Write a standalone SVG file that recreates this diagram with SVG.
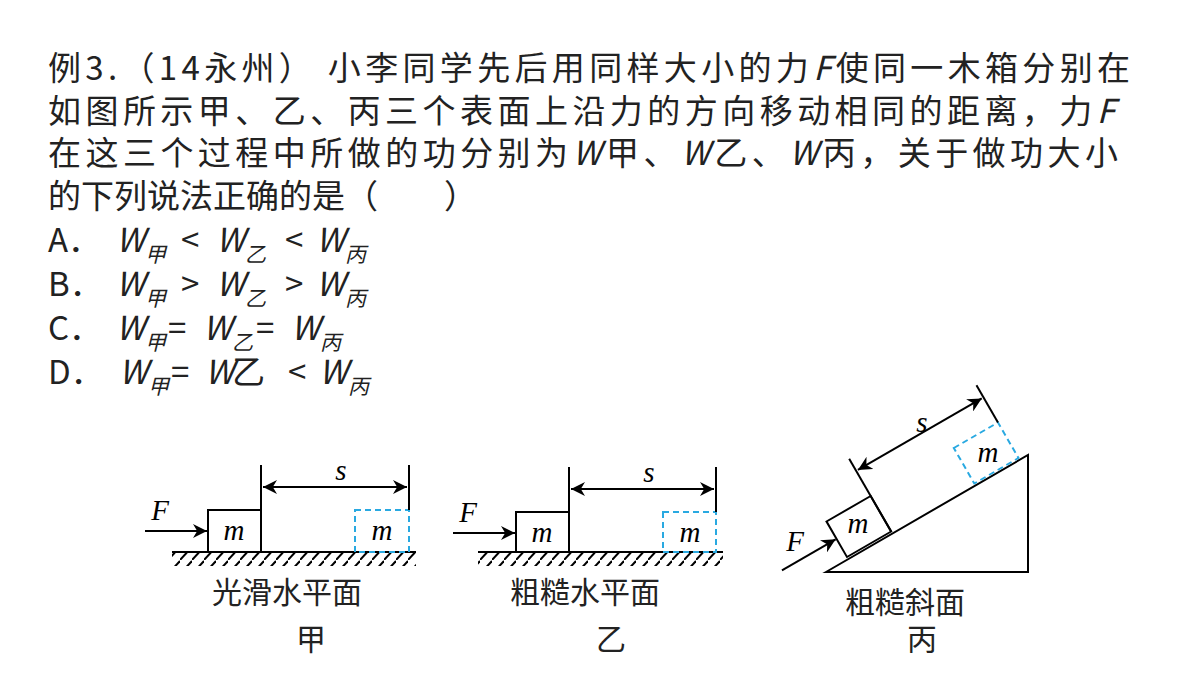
<svg xmlns="http://www.w3.org/2000/svg" width="1200" height="675" viewBox="0 0 1200 675">
<style>
.t{font-family:"Noto Sans CJK SC","Noto Sans",sans-serif;font-size:33px;fill:#222}
.i{font-style:italic}
.sub{font-family:"Noto Sans CJK SC",sans-serif;font-size:21px;font-style:italic;fill:#222}
.m{font-family:"Liberation Serif",serif;font-style:italic;font-size:29px}
.c{font-family:"Noto Sans CJK SC",serif;font-size:30px;fill:#222}
.k{stroke:#000;stroke-width:2;fill:none}
.d{stroke:#29a9e1;stroke-width:2;fill:none;stroke-dasharray:6,4}
</style>
<defs>
<marker id="a" viewBox="0 0 10 10" refX="10" refY="5" markerWidth="7" markerHeight="7" orient="auto-start-reverse"><path d="M0,0 L10,5 L0,10 L3,5z" fill="#000"/></marker>
<pattern id="h" width="12" height="14" patternUnits="userSpaceOnUse"><path d="M0,14 L12,1" stroke="#000" stroke-width="2"/></pattern>
</defs>
<text class="t" x="48" y="80" textLength="1082">例3.（14永州） 小李同学先后用同样大小的力<tspan class="i">F</tspan>使同一木箱分别在</text>
<text class="t" x="48" y="123" textLength="1067">如图所示甲、乙、丙三个表面上沿力的方向移动相同的距离，力<tspan class="i">F</tspan></text>
<text class="t" x="48" y="165" textLength="1070">在这三个过程中所做的功分别为<tspan class="i">W</tspan>甲、<tspan class="i">W</tspan>乙、<tspan class="i">W</tspan>丙，关于做功大小</text>
<text class="t" x="48" y="208">的下列说法正确的是（　　）</text>
<g id="optA"><text class="t" x="48" y="252">A．</text><text class="t i" x="116" y="252">W</text><text class="sub" x="145" y="262">甲</text><text class="t" x="181" y="252">&lt;</text><text class="t i" x="216" y="252">W</text><text class="sub" x="245" y="262">乙</text><text class="t" x="285" y="252">&lt;</text><text class="t i" x="316" y="252">W</text><text class="sub" x="345" y="262">丙</text></g>
<g id="optB"><text class="t" x="48" y="296">B．</text><text class="t i" x="116" y="296">W</text><text class="sub" x="145" y="306">甲</text><text class="t" x="181" y="296">&gt;</text><text class="t i" x="216" y="296">W</text><text class="sub" x="245" y="306">乙</text><text class="t" x="285" y="296">&gt;</text><text class="t i" x="316" y="296">W</text><text class="sub" x="345" y="306">丙</text></g>
<g id="optC"><text class="t" x="48" y="340">C．</text><text class="t i" x="116" y="340">W</text><text class="sub" x="145" y="350">甲</text><text class="t" x="168" y="340">=</text><text class="t i" x="203" y="340">W</text><text class="sub" x="232" y="350">乙</text><text class="t" x="256" y="340">=</text><text class="t i" x="291" y="340">W</text><text class="sub" x="320" y="350">丙</text></g>
<g id="optD"><text class="t" x="48" y="384">D．</text><text class="t i" x="119" y="384">W</text><text class="sub" x="148" y="394">甲</text><text class="t" x="171" y="384">=</text><text class="t i" x="205" y="384">W</text><text class="t" x="232" y="384">乙</text><text class="t" x="288" y="384">&lt;</text><text class="t i" x="319" y="384">W</text><text class="sub" x="348" y="394">丙</text></g>

<g id="fig1">
<rect x="172" y="553" width="244" height="13" fill="url(#h)"/>
<line class="k" x1="172" y1="552" x2="416" y2="552"/>
<rect class="k" x="208" y="510" width="53" height="42"/>
<rect class="d" x="355" y="510" width="54" height="42"/>
<line class="k" x1="261" y1="465" x2="261" y2="510"/>
<line class="k" x1="409" y1="465" x2="409" y2="510"/>
<line class="k" x1="263" y1="487" x2="407" y2="487" marker-start="url(#a)" marker-end="url(#a)"/>
<line class="k" x1="145" y1="531" x2="207" y2="531" marker-end="url(#a)"/>
<text class="m" x="341" y="480" text-anchor="middle">s</text>
<text class="m" x="160" y="520" text-anchor="middle">F</text>
<text class="m" x="234" y="540" text-anchor="middle">m</text>
<text class="m" x="382" y="540" text-anchor="middle">m</text>
<text class="c" x="287" y="603" text-anchor="middle">光滑水平面</text>
<text class="c" x="311" y="650" text-anchor="middle">甲</text>
</g>
<g id="fig2">
<rect x="478" y="553" width="245" height="13" fill="url(#h)"/>
<line class="k" x1="478" y1="552" x2="723" y2="552"/>
<rect class="k" x="516" y="512" width="53" height="40"/>
<rect class="d" x="663" y="512" width="53" height="40"/>
<line class="k" x1="569" y1="467" x2="569" y2="512"/>
<line class="k" x1="716" y1="467" x2="716" y2="512"/>
<line class="k" x1="571" y1="489" x2="714" y2="489" marker-start="url(#a)" marker-end="url(#a)"/>
<line class="k" x1="453" y1="533" x2="515" y2="533" marker-end="url(#a)"/>
<text class="m" x="649" y="482" text-anchor="middle">s</text>
<text class="m" x="468" y="522" text-anchor="middle">F</text>
<text class="m" x="542" y="542" text-anchor="middle">m</text>
<text class="m" x="690" y="542" text-anchor="middle">m</text>
<text class="c" x="585" y="603" text-anchor="middle">粗糙水平面</text>
<text class="c" x="611" y="650" text-anchor="middle">乙</text>
</g>
<g id="fig3">
<path class="k" d="M826,572 L1028,455 L1028,572 Z"/>
<g transform="translate(847,557) rotate(-30)">
<rect class="k" x="0" y="-41" width="51" height="41"/>
<rect class="d" x="147" y="-41" width="51" height="41"/>
<line class="k" x1="51" y1="0" x2="51" y2="-84"/>
<line class="k" x1="198" y1="-41" x2="198" y2="-84"/>
<line class="k" x1="53" y1="-70" x2="196" y2="-70" marker-start="url(#a)" marker-end="url(#a)"/>
<line class="k" x1="-63" y1="-21" x2="-1" y2="-21" marker-end="url(#a)"/>
</g>
<text class="m" x="922" y="432" text-anchor="middle" font-style="normal">s</text>
<text class="m" x="795" y="551" text-anchor="middle">F</text>
<text class="m" x="858" y="533" text-anchor="middle">m</text>
<text class="m" x="988" y="462" text-anchor="middle">m</text>
<text class="c" x="905" y="613" text-anchor="middle">粗糙斜面</text>
<text class="c" x="922" y="650" text-anchor="middle">丙</text>
</g>
</svg>
